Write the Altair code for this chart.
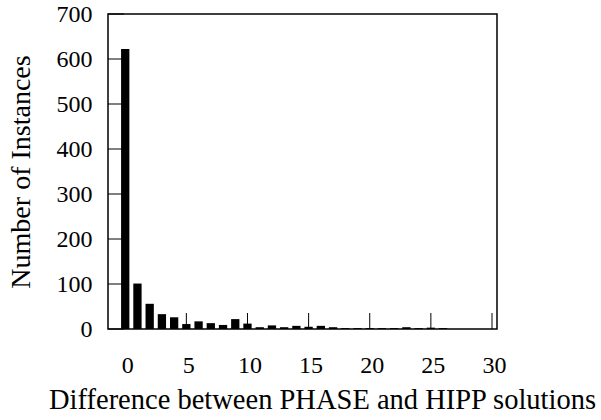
import altair as alt
import pandas as pd

# data
differences = list(range(0, 27))
instances = [622, 101, 56, 33, 26, 11, 17, 13, 9, 22, 12, 4, 8, 4, 7, 5, 7, 4,
             2, 2, 2, 2, 2, 4, 2, 3, 2]
x_ticks = [0, 5, 10, 15, 20, 25, 30]
y_ticks = [0, 100, 200, 300, 400, 500, 600, 700]

W, H = 389, 315
FONT = "Liberation Serif"

df = pd.DataFrame({"diff": differences, "count": instances})
xt = pd.DataFrame({"diff": x_ticks})
yt = pd.DataFrame({"count": y_ticks})

xscale = alt.Scale(domain=[-1, 30], nice=False, zero=False)
yscale = alt.Scale(domain=[0, 700], nice=False)

xaxis = alt.Axis(values=x_ticks, ticks=False, tickSize=0, domain=False,
                 grid=False, labelPadding=24, labelOffset=2,
                 labelFont=FONT, labelFontSize=24, labelColor="black",
                 title="Difference between PHASE and HIPP solutions",
                 titleFont=FONT, titleFontSize=28.5, titleFontWeight="normal",
                 titleColor="black", titlePadding=8, titleX=214)
yaxis = alt.Axis(values=y_ticks, ticks=False, tickSize=0, domain=False,
                 grid=False, labelPadding=16,
                 labelFont=FONT, labelFontSize=24, labelColor="black",
                 title="Number of Instances",
                 titleFont=FONT, titleFontSize=28, titleFontWeight="normal",
                 titleColor="black", titlePadding=21)

bars = alt.Chart(df).mark_bar(size=8.3, color="black").encode(
    x=alt.X("diff:Q", scale=xscale, axis=xaxis),
    y=alt.Y("count:Q", scale=yscale, axis=yaxis),
)

xtick_marks = alt.Chart(xt).mark_rule(color="black", strokeWidth=1).encode(
    x=alt.X("diff:Q", scale=xscale, axis=xaxis),
    y=alt.value(H),
    y2=alt.value(H - 16),
)

ytick_marks = alt.Chart(yt).mark_rule(color="black", strokeWidth=1).encode(
    y=alt.Y("count:Q", scale=yscale, axis=yaxis),
    x=alt.value(0),
    x2=alt.value(16),
)

chart = alt.layer(bars, xtick_marks, ytick_marks).properties(
    width=W, height=H,
    autosize=alt.AutoSizeParams(type="none"),
    padding={"left": 108, "top": 14, "right": 601 - 108 - W, "bottom": 420 - 14 - H},
    background="white",
).configure_view(stroke="black", strokeWidth=1.5)

chart.save("out.html", embed_options={"renderer": "svg", "actions": False})
